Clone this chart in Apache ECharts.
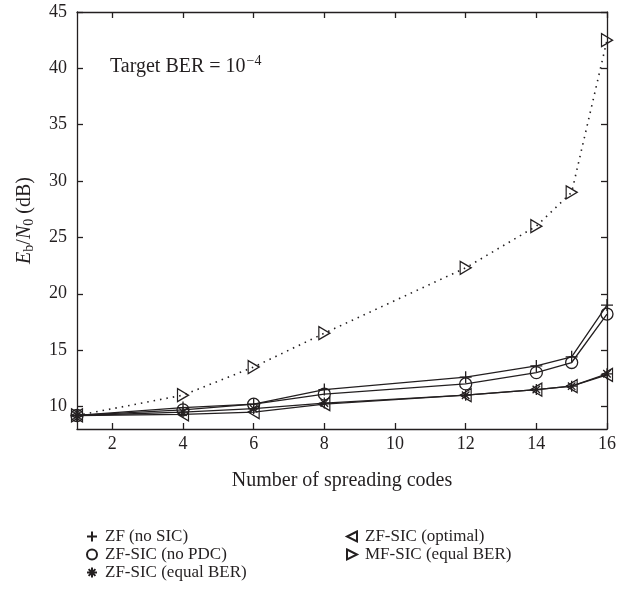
<!DOCTYPE html>
<html>
<head>
<meta charset="utf-8">
<script src="https://cdn.jsdelivr.net/npm/echarts@6/dist/echarts.min.js"></script>
<style>
html,body{margin:0;padding:0;background:#fff;}
#chart{width:628px;height:592px;}
</style>
</head>
<body>
<div id="chart"></div>
<script>
const xCodes = [1, 4, 6, 8, 12, 14, 15, 16];
const zfNoSic = [9.2, 9.9, 10.2, 11.5, 12.6, 13.6, 14.4, 19.0];
const zfSicNoPdc = [9.2, 9.7, 10.2, 11.1, 12.0, 13.0, 13.9, 18.2];
const zfSicEqualBer = [9.2, 9.5, 9.8, 10.3, 11.0, 11.5, 11.8, 12.9];
const zfSicOptimal = [9.2, 9.3, 9.5, 10.2, 11.0, 11.5, 11.8, 12.8];
const mfSicEqualBer = [9.2, 11.0, 13.5, 16.5, 22.3, 26.0, 29.0, 42.5];
const xTicks = [2, 4, 6, 8, 10, 12, 14, 16];
const yTicks = [10, 15, 20, 25, 30, 35, 40, 45];
const seriesNames = ['ZF (no SIC)', 'ZF-SIC (no PDC)', 'ZF-SIC (equal BER)', 'ZF-SIC (optimal)', 'MF-SIC (equal BER)'];

const FONT = 'Liberation Serif';
const INK = '#231f20';
const SYM = {
  plus: 'path://M5,0L5,10M0,5L10,5',
  circle: 'circle',
  star: 'path://M5,0L5,10M0,5L10,5M1.6,1.6L8.4,8.4M8.4,1.6L1.6,8.4',
  left: 'path://M10,0L0,5L10,10Z',
  right: 'path://M0,0L10,5L0,10Z'
};
function pts(arr) { return xCodes.map((x, i) => [x, arr[i]]); }
function mk(name, arr, sym, size, dotted) {
  return {
    name: name, type: 'line', data: pts(arr),
    symbol: sym, symbolSize: size, showSymbol: true,
    lineStyle: {color: INK, width: dotted ? 1.6 : 1.3, type: dotted ? [1.5, 5] : 'solid'},
    itemStyle: {color: 'transparent', borderColor: INK, borderWidth: 1.3},
    emphasis: {disabled: true},
    animation: false
  };
}
const chart = echarts.init(document.getElementById('chart'));
const axisCommon = {
  axisLine: {show: true, lineStyle: {color: INK, width: 1.3}},
  splitLine: {show: false}
};
const legendCommon = {
  orient: 'vertical', top: 523, itemGap: 1, itemWidth: 16, itemHeight: 10,
  textStyle: {fontFamily: FONT, fontSize: 17, color: INK}
};
chart.setOption({
  animation: false,
  grid: {left: 77, right: 21, top: 12, bottom: 163},
  xAxis: [
    Object.assign({
      type: 'value', min: 1, max: 16, position: 'bottom',
      axisTick: {inside: true, length: 6, customValues: xTicks, lineStyle: {color: INK, width: 1.3}},
      axisLabel: {customValues: xTicks, fontFamily: FONT, fontSize: 18, color: INK, margin: 6},
      name: 'Number of spreading codes', nameLocation: 'middle', nameGap: 42,
      nameTextStyle: {fontFamily: FONT, fontSize: 20, color: INK}
    }, axisCommon),
    Object.assign({
      type: 'value', min: 1, max: 16, position: 'top',
      axisTick: {inside: true, length: 6, customValues: xTicks, lineStyle: {color: INK, width: 1.3}},
      axisLabel: {show: false}
    }, axisCommon)
  ],
  yAxis: [
    Object.assign({
      type: 'value', min: 8, max: 45, position: 'left',
      axisTick: {inside: true, length: 6, customValues: yTicks, lineStyle: {color: INK, width: 1.3}},
      axisLabel: {customValues: yTicks, fontFamily: FONT, fontSize: 18, color: INK, margin: 10},
      name: '{i|E}{sub|b}{n|/}{i|N}{sub|0}{n| (dB)}', nameLocation: 'middle', nameGap: 41, nameRotate: 90,
      nameTextStyle: {
        fontFamily: FONT, fontSize: 20, color: INK,
        rich: {
          i: {fontFamily: FONT, fontSize: 20, fontStyle: 'italic', color: INK},
          n: {fontFamily: FONT, fontSize: 20, color: INK},
          sub: {fontFamily: FONT, fontSize: 14, color: INK, padding: [9, 0, 0, 0]}
        }
      }
    }, axisCommon),
    Object.assign({
      type: 'value', min: 8, max: 45, position: 'right',
      axisTick: {inside: true, length: 6, customValues: yTicks, lineStyle: {color: INK, width: 1.3}},
      axisLabel: {show: false}
    }, axisCommon)
  ],
  legend: [
    Object.assign({}, legendCommon, {
      left: 81,
      data: [
        {name: seriesNames[0], icon: SYM.plus},
        {name: seriesNames[1], icon: 'circle'},
        {name: seriesNames[2], icon: SYM.star}
      ]
    }),
    Object.assign({}, legendCommon, {
      left: 341,
      data: [
        {name: seriesNames[3], icon: SYM.left},
        {name: seriesNames[4], icon: SYM.right}
      ]
    })
  ],
  graphic: [{
    type: 'text', left: 110, top: 54,
    style: {
      text: '{a|Target BER = 10}{s|−4}',
      rich: {
        a: {fontFamily: FONT, fontSize: 20, fill: INK},
        s: {fontFamily: FONT, fontSize: 14, fill: INK, padding: [0, 0, 12, 1]}
      }
    }
  }],
  series: [
    mk(seriesNames[0], zfNoSic, SYM.plus, 12, false),
    mk(seriesNames[1], zfSicNoPdc, 'circle', 12, false),
    mk(seriesNames[2], zfSicEqualBer, SYM.star, 11, false),
    mk(seriesNames[3], zfSicOptimal, SYM.left, [11, 13], false),
    mk(seriesNames[4], mfSicEqualBer, SYM.right, [11, 13], true)
  ]
});
</script>
</body>
</html>
